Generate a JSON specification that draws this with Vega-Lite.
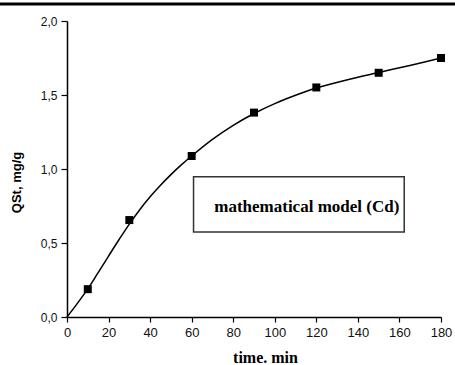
{
  "$schema": "https://vega.github.io/schema/vega-lite/v6.json",
  "autosize": "none",
  "width": 374,
  "height": 296,
  "padding": {"left": 67, "top": 21, "right": 14, "bottom": 48},
  "background": "white",
  "config": {"view": {"stroke": null}},
  "datasets": {
    "curve": [
      {"t": 0, "q": 0},
      {"t": 5, "q": 0.092},
      {"t": 10, "q": 0.19},
      {"t": 15, "q": 0.30},
      {"t": 20, "q": 0.412},
      {"t": 25, "q": 0.522},
      {"t": 30, "q": 0.628},
      {"t": 35, "q": 0.725},
      {"t": 40, "q": 0.812},
      {"t": 45, "q": 0.89},
      {"t": 50, "q": 0.962},
      {"t": 55, "q": 1.028},
      {"t": 60, "q": 1.088},
      {"t": 70, "q": 1.2},
      {"t": 80, "q": 1.295},
      {"t": 90, "q": 1.375},
      {"t": 100, "q": 1.442},
      {"t": 110, "q": 1.498},
      {"t": 120, "q": 1.547},
      {"t": 135, "q": 1.603},
      {"t": 150, "q": 1.652},
      {"t": 165, "q": 1.70},
      {"t": 180, "q": 1.75}
    ],
    "points": [
      {"t": 10, "q": 0.188},
      {"t": 30, "q": 0.655},
      {"t": 60, "q": 1.088},
      {"t": 90, "q": 1.381},
      {"t": 120, "q": 1.551},
      {"t": 150, "q": 1.65},
      {"t": 180, "q": 1.75}
    ]
  },
  "layer": [
    {
      "data": {"name": "curve"},
      "mark": {"type": "line", "color": "black", "strokeWidth": 1.5, "interpolate": "catmull-rom"},
      "encoding": {
        "x": {
          "field": "t", "type": "quantitative",
          "scale": {"domain": [0, 180], "nice": false, "zero": false},
          "axis": {
            "title": "time. min",
            "titleFont": "Liberation Serif",
            "titleFontSize": 16,
            "titleFontWeight": "bold",
            "titleColor": "black",
            "titlePadding": 10,
            "titleX": 198,
            "values": [0,10,20,30,40,50,60,70,80,90,100,110,120,130,140,150,160,170,180],
            "labelExpr": "datum.value % 20 === 0 ? format(datum.value, 'd') : ''",
            "labelFont": "Liberation Sans",
            "labelFontSize": 13,
            "labelColor": "#111",
            "labelPadding": 4,
            "labelFlush": false,
            "labelOverlap": false,
            "grid": false,
            "domainColor": "black",
            "domainWidth": 1.5,
            "tickColor": "black",
            "tickWidth": 1.2,
            "tickSize": {"condition": {"test": "datum.value % 20 !== 0", "value": 3}, "value": 5}
          }
        },
        "y": {
          "field": "q", "type": "quantitative",
          "scale": {"domain": [0, 2], "nice": false},
          "axis": {
            "title": "QSt, mg/g",
            "titleFont": "Liberation Sans",
            "titleFontSize": 13,
            "titleFontWeight": "bold",
            "titleColor": "black",
            "titlePadding": 17,
            "titleY": 161,
            "values": [0,0.25,0.5,0.75,1,1.25,1.5,1.75,2],
            "labelExpr": "datum.value % 0.5 === 0 ? replace(format(datum.value, '.1f'), '.', ',') : ''",
            "labelFont": "Liberation Sans",
            "labelFontSize": 12,
            "labelColor": "#111",
            "labelPadding": 4,
            "labelFlush": false,
            "labelOverlap": false,
            "grid": false,
            "domainColor": "black",
            "domainWidth": 1.5,
            "tickColor": "black",
            "tickWidth": 1.2,
            "tickSize": {"condition": {"test": "datum.value % 0.5 !== 0", "value": 3}, "value": 6}
          }
        }
      }
    },
    {
      "data": {"name": "points"},
      "mark": {"type": "point", "shape": "square", "filled": true, "color": "black", "opacity": 1, "size": 64},
      "encoding": {
        "x": {"field": "t", "type": "quantitative"},
        "y": {"field": "q", "type": "quantitative"}
      }
    },
    {
      "data": {"values": [{"label": "mathematical model (Cd)"}]},
      "layer": [
        {
          "mark": {"type": "rect", "fill": "white", "stroke": "#333", "strokeWidth": 1.5},
          "encoding": {
            "x": {"datum": 60.9, "type": "quantitative"},
            "x2": {"datum": 162.3},
            "y": {"datum": 0.948, "type": "quantitative"},
            "y2": {"datum": 0.575}
          }
        },
        {
          "mark": {"type": "text", "font": "Liberation Serif", "fontWeight": "bold", "fontSize": 17, "color": "black", "align": "center", "baseline": "middle"},
          "encoding": {
            "x": {"datum": 115.4, "type": "quantitative"},
            "y": {"datum": 0.745, "type": "quantitative"},
            "text": {"field": "label"}
          }
        }
      ]
    },
    {
      "data": {"values": [{"k": "border"}]},
      "mark": {"type": "rule", "color": "black", "strokeWidth": 3, "clip": false},
      "encoding": {
        "x": {"datum": -33, "type": "quantitative"},
        "x2": {"datum": 187},
        "y": {"datum": 2.115, "type": "quantitative"}
      }
    }
  ]
}
